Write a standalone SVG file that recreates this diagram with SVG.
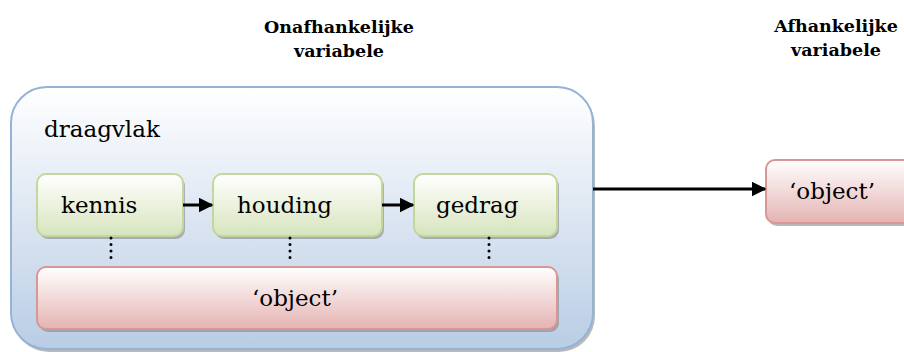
<svg xmlns="http://www.w3.org/2000/svg" width="904" height="352" viewBox="0 0 904 352">
<defs>
<linearGradient id="gBlue" x1="0" y1="0" x2="0" y2="1"><stop offset="0" stop-color="#FFFFFF"/><stop offset="1" stop-color="#B9CDE5"/></linearGradient>
<linearGradient id="gGreen" x1="0" y1="0" x2="0" y2="1"><stop offset="0" stop-color="#FFFFFF"/><stop offset="1" stop-color="#D7E4BD"/></linearGradient>
<linearGradient id="gRed" x1="0" y1="0" x2="0" y2="1"><stop offset="0" stop-color="#FFFFFF"/><stop offset="1" stop-color="#E4B3B2"/></linearGradient>
<marker id="ah" markerWidth="5" markerHeight="5" refX="4.5" refY="2.5" orient="auto" markerUnits="strokeWidth"><path d="M0,0 L5,2.5 L0,5 z" fill="#000"/></marker>
</defs>
<style>
text{fill:#000;font-family:"DejaVu Serif","Liberation Serif","Times New Roman",serif}
.hdr{font-size:17.5px;font-weight:bold;text-anchor:middle}
.lbl{font-size:23px}
.shadow{fill:#7f7f7f;opacity:0.55}
.blue{fill:url(#gBlue);stroke:#95B3D7;stroke-width:2}
.green{fill:url(#gGreen);stroke:#C3D69B;stroke-width:2}
.red{fill:url(#gRed);stroke:#D99694;stroke-width:2}
.conn{stroke:#000;stroke-width:3;fill:none;marker-end:url(#ah)}
.dot{stroke:#000;stroke-width:3;stroke-linecap:round;stroke-dasharray:0 6.5;fill:none}
</style>
<rect width="904" height="352" fill="#FFFFFF"/>
<g id="headers">
<text class="hdr" x="339" y="33">Onafhankelijke</text>
<text class="hdr" x="339" y="57">variabele</text>
<text class="hdr" x="836" y="32">Afhankelijke</text>
<text class="hdr" x="836" y="56">variabele</text>
</g>
<g id="draagvlak">
<rect class="shadow" x="13" y="90" width="582" height="262" rx="36"/>
<rect class="blue" x="11" y="87" width="582" height="262" rx="36"/>
<text class="lbl" x="44" y="137">draagvlak</text>
</g>
<g id="kennis">
<rect class="shadow" x="39" y="177" width="146" height="62" rx="9"/>
<rect class="green" x="37" y="174" width="146" height="62" rx="9"/>
<text class="lbl" x="61" y="213">kennis</text>
</g>
<g id="houding">
<rect class="shadow" x="215" y="177" width="169" height="62" rx="9"/>
<rect class="green" x="213" y="174" width="169" height="62" rx="9"/>
<text class="lbl" x="237" y="213">houding</text>
</g>
<g id="gedrag">
<rect class="shadow" x="416" y="177" width="143" height="62" rx="9"/>
<rect class="green" x="414" y="174" width="143" height="62" rx="9"/>
<text class="lbl" x="436" y="213">gedrag</text>
</g>
<g id="object-inner">
<rect class="shadow" x="39" y="270" width="520" height="62" rx="9"/>
<rect class="red" x="37" y="267" width="520" height="62" rx="9"/>
<text class="lbl" x="295" y="306" text-anchor="middle">‘object’</text>
</g>
<g id="object-outer">
<rect class="shadow" x="768" y="163" width="150" height="63" rx="9"/>
<rect class="red" x="766" y="160" width="150" height="63" rx="9"/>
<text class="lbl" x="789" y="199">‘object’</text>
</g>
<g id="connectors">
<line class="conn" x1="183" y1="205" x2="212" y2="205"/>
<line class="conn" x1="382" y1="205" x2="413" y2="205"/>
<line class="conn" x1="593" y1="189" x2="765" y2="189"/>
<line class="dot" x1="111" y1="238" x2="111" y2="264"/>
<line class="dot" x1="290" y1="238" x2="290" y2="264"/>
<line class="dot" x1="489" y1="238" x2="489" y2="264"/>
</g>
</svg>
